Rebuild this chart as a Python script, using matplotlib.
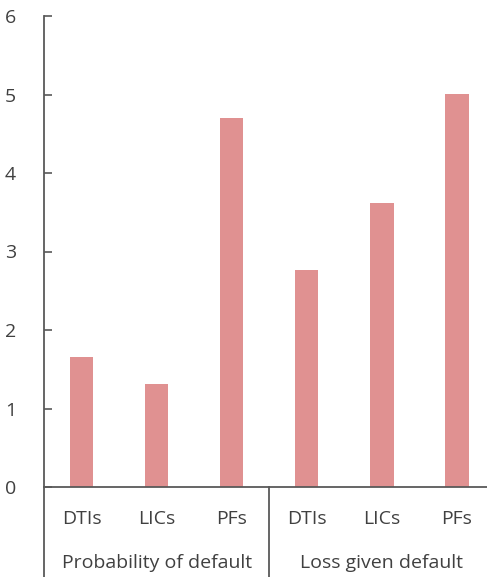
import matplotlib
matplotlib.use('Agg')
from matplotlib import pyplot as plt

categories = ['DTIs', 'LICs', 'PFs', 'DTIs', 'LICs', 'PFs']
groups = ['Probability of default', 'Loss given default']
values = [1.66, 1.31, 4.70, 2.76, 3.62, 5.01]
yticks = [0, 1, 2, 3, 4, 5, 6]

plt.rcParams['font.family'] = ['Open Sans', 'DejaVu Sans']
text_color = '#404040'
line_color = '#595959'
fs = 14

fig = plt.figure(figsize=(4.87, 5.77), dpi=100)
ax = fig.add_axes([44 / 487, 90 / 577, 443 / 487, 471 / 577])

x = list(range(len(categories)))
ax.bar(x, values, width=0.31, color='#E09191')

ax.set_xlim(-0.5, 5.4)
ax.set_ylim(0, 6)
ax.set_yticks(yticks)
ax.set_yticklabels([str(t) for t in yticks])
ax.tick_params(axis='y', direction='in', length=6, width=1.2, color=line_color,
               labelsize=fs, labelcolor=text_color, pad=20)
ax.set_xticks([])

for s in ['top', 'right']:
    ax.spines[s].set_visible(False)
for s in ['left', 'bottom']:
    ax.spines[s].set_color(line_color)
    ax.spines[s].set_linewidth(1.3)

# extend axis and separator down through label area
drop = -90 / 471 * 6
ax.plot([-0.5, -0.5], [0, drop], color=line_color, lw=1.3, clip_on=False)
ax.plot([2.5, 2.5], [0, drop], color=line_color, lw=1.3, clip_on=False)

for i, c in enumerate(categories):
    ax.text(i, -32 / 471 * 6, c, ha='center', va='center', fontsize=fs, color=text_color)
for j, g in enumerate(groups):
    ax.text(1 + 3 * j, -76 / 471 * 6, g, ha='center', va='center', fontsize=fs,
            color=text_color)

fig.savefig('out.png', dpi=100)
